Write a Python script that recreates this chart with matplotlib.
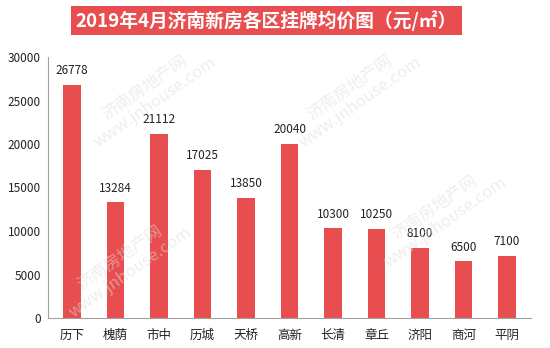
import matplotlib
matplotlib.use("Agg")
import matplotlib.pyplot as plt
from matplotlib.patches import Rectangle

plt.rcParams['font.family'] = ['Noto Sans CJK SC', 'DejaVu Sans']

districts = ["历下", "槐荫", "市中", "历城", "天桥", "高新", "长清", "章丘", "济阳", "商河", "平阴"]
prices = [26778, 13284, 21112, 17025, 13850, 20040, 10300, 10250, 8100, 6500, 7100]
y_ticks = [0, 5000, 10000, 15000, 20000, 25000, 30000]
title = "2019年4月济南新房各区挂牌均价图（元/㎡）"

bar_color = "#E84E4F"

fig = plt.figure(figsize=(5.5, 3.48), dpi=100)
fig.patch.set_facecolor("white")
W, H = 550, 348
ax = fig.add_axes([48 / W, 1 - 318 / H, (531 - 48) / W, (318 - 57) / H])

x = range(len(districts))
ax.bar(x, prices, width=0.4, color=bar_color, zorder=2)
for xi, v in zip(x, prices):
    ax.text(xi, v + 900, f"{v}", ha="center", va="bottom", fontsize=8.5, color="#222222")

ax.set_xlim(-0.55, len(districts) - 0.45)
ax.set_ylim(0, 30000)
ax.set_yticks(y_ticks)
ax.set_yticklabels([str(t) for t in y_ticks], fontsize=8.5, color="#222222")
ax.set_xticks(list(x))
ax.set_xticklabels(districts, fontsize=9, color="#222222")
ax.tick_params(axis="x", length=0, pad=8)
ax.tick_params(axis="y", length=0, pad=5)
for s in ["top", "right"]:
    ax.spines[s].set_visible(False)
ax.spines["left"].set_color("#A0A0A0")
ax.spines["bottom"].set_color("#A0A0A0")

# site watermark
marks = [(150, 95), (355, 95), (125, 265), (440, 215)]
for mx, my in marks:
    fig.text(mx / W, 1 - my / H, "济南房地产网\nwww.jnhouse.com", rotation=35,
             ha="center", va="center", fontsize=12, color="#DDDDDD", alpha=0.5,
             linespacing=1.1, zorder=0)

# title banner
fig.patches.append(Rectangle((71 / W, 1 - 35 / H), (462 - 71) / W, 29 / H,
                             transform=fig.transFigure, facecolor=bar_color,
                             edgecolor="none", zorder=1))
fig.text(266.5 / W, 1 - 20.5 / H, title, ha="center", va="center", fontsize=13.5,
         fontweight="bold", color="white", zorder=2)

fig.savefig("out.png", dpi=100, facecolor="white")
